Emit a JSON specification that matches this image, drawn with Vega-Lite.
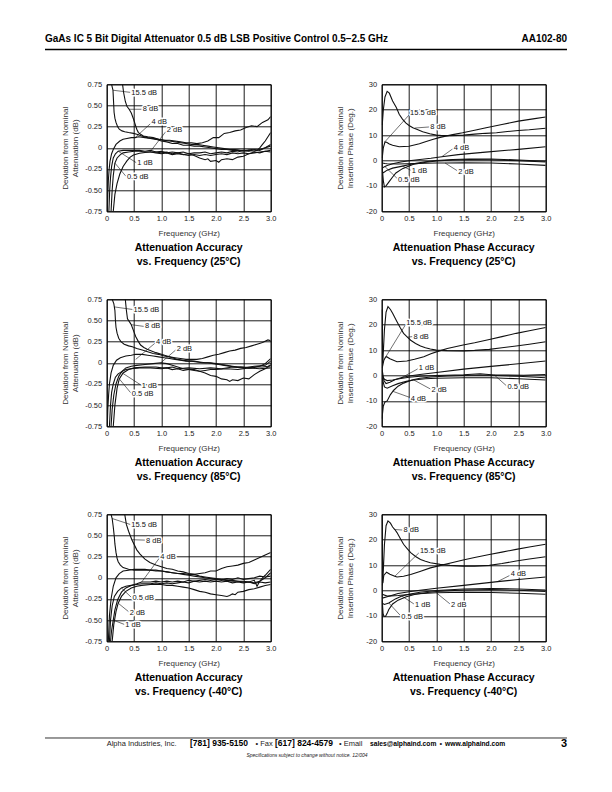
{
"$schema": "https://vega.github.io/schema/vega-lite/v6.json",
"padding": {"left": 43.7, "top": 32.3, "right": 5, "bottom": 5},
"background": "white",
"config": {
 "font": "Liberation Sans",
 "view": {"stroke": "#000", "strokeWidth": 1},
 "axis": {"grid": true, "gridColor": "#000", "gridOpacity": 1, "gridWidth": 0.9, "ticks": false, "domain": false, "tickCount": 20, "labelFont": "Liberation Sans", "labelFontSize": 7.5, "labelColor": "#222", "titleFont": "Liberation Sans", "titleFontSize": 8, "titleFontWeight": "normal", "titleColor": "#333", "labelFlush": false, "labelOverlap": false},
 "axisX": {"labelPadding": 3, "titlePadding": 8},
 "axisY": {"labelPadding": 5, "titleLineHeight": 10},
 "title": {"orient": "bottom", "anchor": "middle", "font": "Liberation Sans", "fontSize": 10.5, "fontWeight": "bold", "lineHeight": 14, "offset": 5.5, "color": "#000"}
},
"datasets": {
 "hdr": [{"t":"GaAs IC 5 Bit Digital Attenuator 0.5 dB LSB Positive Control 0.5–2.5 GHz","k":"l","x":45,"y":40.5},{"t":"AA102-80","k":"r","x":567,"y":40.5}],
 "hrule": [{"x":45,"x2":567,"y":48.5}],
 "ftr": [
  {"t":"Alpha Industries, Inc.","k":"co","x":106.7,"y":745.5},
  {"t":"• Fax","k":"co","x":255.5,"y":745.5},
  {"t":"• Email","k":"co","x":339,"y":745.5},
  {"t":"•","k":"co","x":439.5,"y":745.5},
  {"t":"[781] 935-5150","k":"num","x":190,"y":745.5},
  {"t":"[617] 824-4579","k":"num","x":275,"y":745.5},
  {"t":"sales@alphaind.com","k":"web","x":370,"y":745.5},
  {"t":"www.alphaind.com","k":"web","x":445,"y":745.5},
  {"t":"3","k":"pg","x":567,"y":746},
  {"t":"Specifications subject to change without notice.  12/004","k":"note","x":307,"y":756}
 ],
 "frule": [{"x":45,"x2":567,"y":737}],
 "a25": [
  {"s":"15.5","f":0.09,"v":0.75},{"s":"15.5","f":0.1,"v":0.72},{"s":"15.5","f":0.115,"v":0.68},{"s":"15.5","f":0.125,"v":0.55},{"s":"15.5","f":0.135,"v":0.42},{"s":"15.5","f":0.15,"v":0.35},{"s":"15.5","f":0.17,"v":0.3},{"s":"15.5","f":0.2,"v":0.25},{"s":"15.5","f":0.23,"v":0.22},{"s":"15.5","f":0.28,"v":0.2},{"s":"15.5","f":0.33,"v":0.19},{"s":"15.5","f":0.4,"v":0.18},{"s":"15.5","f":0.49,"v":0.17},{"s":"15.5","f":0.55,"v":0.16},{"s":"15.5","f":0.64,"v":0.14},{"s":"15.5","f":0.75,"v":0.12},{"s":"15.5","f":0.85,"v":0.11},{"s":"15.5","f":0.95,"v":0.1},{"s":"15.5","f":1.05,"v":0.09},{"s":"15.5","f":1.15,"v":0.09},{"s":"15.5","f":1.25,"v":0.08},{"s":"15.5","f":1.35,"v":0.07},{"s":"15.5","f":1.45,"v":0.06},{"s":"15.5","f":1.55,"v":0.06},{"s":"15.5","f":1.65,"v":0.05},{"s":"15.5","f":1.75,"v":0.06},{"s":"15.5","f":1.85,"v":0.08},{"s":"15.5","f":1.95,"v":0.12},{"s":"15.5","f":2.05,"v":0.12},{"s":"15.5","f":2.15,"v":0.17},{"s":"15.5","f":2.25,"v":0.18},{"s":"15.5","f":2.35,"v":0.2},{"s":"15.5","f":2.45,"v":0.21},{"s":"15.5","f":2.55,"v":0.24},{"s":"15.5","f":2.65,"v":0.26},{"s":"15.5","f":2.75,"v":0.25},{"s":"15.5","f":2.85,"v":0.3},{"s":"15.5","f":2.95,"v":0.33},{"s":"15.5","f":3.0,"v":0.37},
  {"s":"8","f":0.29,"v":0.75},{"s":"8","f":0.31,"v":0.65},{"s":"8","f":0.34,"v":0.55},{"s":"8","f":0.37,"v":0.49},{"s":"8","f":0.41,"v":0.455},{"s":"8","f":0.45,"v":0.41},{"s":"8","f":0.49,"v":0.34},{"s":"8","f":0.52,"v":0.28},{"s":"8","f":0.55,"v":0.22},{"s":"8","f":0.58,"v":0.18},{"s":"8","f":0.62,"v":0.16},{"s":"8","f":0.67,"v":0.14},{"s":"8","f":0.75,"v":0.13},{"s":"8","f":0.85,"v":0.12},{"s":"8","f":0.95,"v":0.1},{"s":"8","f":1.05,"v":0.09},{"s":"8","f":1.15,"v":0.08},{"s":"8","f":1.25,"v":0.07},{"s":"8","f":1.35,"v":0.06},{"s":"8","f":1.45,"v":0.05},{"s":"8","f":1.55,"v":0.04},{"s":"8","f":1.65,"v":0.04},{"s":"8","f":1.75,"v":0.03},{"s":"8","f":1.85,"v":0.02},{"s":"8","f":1.95,"v":0.01},{"s":"8","f":2.05,"v":0.0},{"s":"8","f":2.15,"v":-0.01},{"s":"8","f":2.25,"v":-0.02},{"s":"8","f":2.35,"v":-0.02},{"s":"8","f":2.45,"v":-0.03},{"s":"8","f":2.55,"v":-0.03},{"s":"8","f":2.65,"v":-0.02},{"s":"8","f":2.75,"v":-0.03},{"s":"8","f":2.8,"v":0.0},{"s":"8","f":2.85,"v":0.04},{"s":"8","f":2.9,"v":0.08},{"s":"8","f":2.95,"v":0.13},{"s":"8","f":3.0,"v":0.18},
  {"s":"4","f":0.01,"v":-0.75},{"s":"4","f":0.02,"v":-0.55},{"s":"4","f":0.03,"v":-0.39},{"s":"4","f":0.045,"v":-0.25},{"s":"4","f":0.06,"v":-0.16},{"s":"4","f":0.09,"v":-0.07},{"s":"4","f":0.12,"v":-0.02},{"s":"4","f":0.17,"v":0.04},{"s":"4","f":0.24,"v":0.08},{"s":"4","f":0.3,"v":0.1},{"s":"4","f":0.37,"v":0.11},{"s":"4","f":0.45,"v":0.12},{"s":"4","f":0.52,"v":0.12},{"s":"4","f":0.58,"v":0.13},{"s":"4","f":0.7,"v":0.12},{"s":"4","f":0.8,"v":0.11},{"s":"4","f":0.9,"v":0.1},{"s":"4","f":1.0,"v":0.08},{"s":"4","f":1.1,"v":0.07},{"s":"4","f":1.2,"v":0.05},{"s":"4","f":1.3,"v":0.05},{"s":"4","f":1.4,"v":0.03},{"s":"4","f":1.5,"v":0.03},{"s":"4","f":1.6,"v":0.02},{"s":"4","f":1.7,"v":0.02},{"s":"4","f":1.8,"v":0.01},{"s":"4","f":1.9,"v":0.0},{"s":"4","f":2.0,"v":-0.01},{"s":"4","f":2.1,"v":-0.02},{"s":"4","f":2.2,"v":-0.02},{"s":"4","f":2.3,"v":-0.03},{"s":"4","f":2.4,"v":-0.03},{"s":"4","f":2.5,"v":-0.04},{"s":"4","f":2.6,"v":-0.03},{"s":"4","f":2.7,"v":-0.04},{"s":"4","f":2.8,"v":-0.02},{"s":"4","f":2.9,"v":0.0},{"s":"4","f":3.0,"v":0.04},
  {"s":"1","f":0.04,"v":-0.75},{"s":"1","f":0.055,"v":-0.5},{"s":"1","f":0.07,"v":-0.35},{"s":"1","f":0.09,"v":-0.22},{"s":"1","f":0.12,"v":-0.12},{"s":"1","f":0.16,"v":-0.07},{"s":"1","f":0.21,"v":-0.04},{"s":"1","f":0.3,"v":-0.03},{"s":"1","f":0.4,"v":-0.03},{"s":"1","f":0.5,"v":-0.03},{"s":"1","f":0.6,"v":-0.03},{"s":"1","f":0.7,"v":-0.04},{"s":"1","f":0.8,"v":-0.03},{"s":"1","f":0.9,"v":-0.05},{"s":"1","f":1.0,"v":-0.04},{"s":"1","f":1.1,"v":-0.06},{"s":"1","f":1.2,"v":-0.05},{"s":"1","f":1.3,"v":-0.06},{"s":"1","f":1.4,"v":-0.05},{"s":"1","f":1.5,"v":-0.07},{"s":"1","f":1.6,"v":-0.06},{"s":"1","f":1.7,"v":-0.06},{"s":"1","f":1.8,"v":-0.05},{"s":"1","f":1.9,"v":-0.07},{"s":"1","f":2.0,"v":-0.06},{"s":"1","f":2.1,"v":-0.05},{"s":"1","f":2.2,"v":-0.06},{"s":"1","f":2.3,"v":-0.04},{"s":"1","f":2.4,"v":-0.05},{"s":"1","f":2.5,"v":-0.03},{"s":"1","f":2.6,"v":-0.04},{"s":"1","f":2.7,"v":-0.02},{"s":"1","f":2.8,"v":-0.03},{"s":"1","f":2.9,"v":0.0},{"s":"1","f":3.0,"v":0.02},
  {"s":"0.5","f":0.08,"v":-0.75},{"s":"0.5","f":0.1,"v":-0.5},{"s":"0.5","f":0.12,"v":-0.33},{"s":"0.5","f":0.15,"v":-0.18},{"s":"0.5","f":0.19,"v":-0.12},{"s":"0.5","f":0.25,"v":-0.08},{"s":"0.5","f":0.3,"v":-0.06},{"s":"0.5","f":0.4,"v":-0.05},{"s":"0.5","f":0.5,"v":-0.04},{"s":"0.5","f":0.6,"v":-0.04},{"s":"0.5","f":0.7,"v":-0.05},{"s":"0.5","f":0.8,"v":-0.05},{"s":"0.5","f":0.9,"v":-0.06},{"s":"0.5","f":1.0,"v":-0.07},{"s":"0.5","f":1.1,"v":-0.06},{"s":"0.5","f":1.2,"v":-0.08},{"s":"0.5","f":1.3,"v":-0.07},{"s":"0.5","f":1.4,"v":-0.08},{"s":"0.5","f":1.5,"v":-0.09},{"s":"0.5","f":1.6,"v":-0.08},{"s":"0.5","f":1.7,"v":-0.09},{"s":"0.5","f":1.8,"v":-0.08},{"s":"0.5","f":1.9,"v":-0.09},{"s":"0.5","f":2.0,"v":-0.08},{"s":"0.5","f":2.1,"v":-0.07},{"s":"0.5","f":2.2,"v":-0.08},{"s":"0.5","f":2.3,"v":-0.06},{"s":"0.5","f":2.4,"v":-0.07},{"s":"0.5","f":2.5,"v":-0.06},{"s":"0.5","f":2.6,"v":-0.07},{"s":"0.5","f":2.7,"v":-0.05},{"s":"0.5","f":2.8,"v":-0.06},{"s":"0.5","f":2.9,"v":-0.04},{"s":"0.5","f":3.0,"v":-0.05},
  {"s":"2","f":0.12,"v":-0.75},{"s":"2","f":0.15,"v":-0.55},{"s":"2","f":0.19,"v":-0.42},{"s":"2","f":0.24,"v":-0.31},{"s":"2","f":0.3,"v":-0.22},{"s":"2","f":0.37,"v":-0.155},{"s":"2","f":0.43,"v":-0.11},{"s":"2","f":0.49,"v":-0.085},{"s":"2","f":0.6,"v":-0.065},{"s":"2","f":0.7,"v":-0.055},{"s":"2","f":0.79,"v":-0.05},{"s":"2","f":0.9,"v":-0.05},{"s":"2","f":1.0,"v":-0.06},{"s":"2","f":1.1,"v":-0.05},{"s":"2","f":1.2,"v":-0.07},{"s":"2","f":1.3,"v":-0.06},{"s":"2","f":1.4,"v":-0.08},{"s":"2","f":1.5,"v":-0.07},{"s":"2","f":1.6,"v":-0.09},{"s":"2","f":1.7,"v":-0.12},{"s":"2","f":1.8,"v":-0.14},{"s":"2","f":1.85,"v":-0.13},{"s":"2","f":1.9,"v":-0.16},{"s":"2","f":2.0,"v":-0.15},{"s":"2","f":2.05,"v":-0.17},{"s":"2","f":2.1,"v":-0.14},{"s":"2","f":2.2,"v":-0.13},{"s":"2","f":2.3,"v":-0.14},{"s":"2","f":2.4,"v":-0.11},{"s":"2","f":2.5,"v":-0.1},{"s":"2","f":2.6,"v":-0.07},{"s":"2","f":2.7,"v":-0.06},{"s":"2","f":2.8,"v":-0.05},{"s":"2","f":2.9,"v":-0.04},{"s":"2","f":3.0,"v":-0.03}
 ],
 "a85": [
  {"s":"15.5","f":0.1,"v":0.75},{"s":"15.5","f":0.13,"v":0.7},{"s":"15.5","f":0.15,"v":0.62},{"s":"15.5","f":0.16,"v":0.5},{"s":"15.5","f":0.17,"v":0.42},{"s":"15.5","f":0.19,"v":0.35},{"s":"15.5","f":0.22,"v":0.29},{"s":"15.5","f":0.26,"v":0.25},{"s":"15.5","f":0.32,"v":0.22},{"s":"15.5","f":0.4,"v":0.2},{"s":"15.5","f":0.47,"v":0.19},{"s":"15.5","f":0.55,"v":0.17},{"s":"15.5","f":0.65,"v":0.15},{"s":"15.5","f":0.75,"v":0.13},{"s":"15.5","f":0.85,"v":0.11},{"s":"15.5","f":0.95,"v":0.1},{"s":"15.5","f":1.05,"v":0.08},{"s":"15.5","f":1.15,"v":0.07},{"s":"15.5","f":1.25,"v":0.06},{"s":"15.5","f":1.35,"v":0.05},{"s":"15.5","f":1.45,"v":0.04},{"s":"15.5","f":1.55,"v":0.04},{"s":"15.5","f":1.65,"v":0.04},{"s":"15.5","f":1.75,"v":0.05},{"s":"15.5","f":1.85,"v":0.07},{"s":"15.5","f":1.95,"v":0.09},{"s":"15.5","f":2.05,"v":0.1},{"s":"15.5","f":2.15,"v":0.12},{"s":"15.5","f":2.25,"v":0.14},{"s":"15.5","f":2.35,"v":0.15},{"s":"15.5","f":2.45,"v":0.17},{"s":"15.5","f":2.55,"v":0.18},{"s":"15.5","f":2.65,"v":0.2},{"s":"15.5","f":2.75,"v":0.22},{"s":"15.5","f":2.85,"v":0.24},{"s":"15.5","f":2.95,"v":0.27},{"s":"15.5","f":3.0,"v":0.26},
  {"s":"8","f":0.34,"v":0.75},{"s":"8","f":0.36,"v":0.62},{"s":"8","f":0.38,"v":0.52},{"s":"8","f":0.42,"v":0.48},{"s":"8","f":0.45,"v":0.45},{"s":"8","f":0.49,"v":0.38},{"s":"8","f":0.53,"v":0.31},{"s":"8","f":0.58,"v":0.25},{"s":"8","f":0.62,"v":0.21},{"s":"8","f":0.68,"v":0.18},{"s":"8","f":0.74,"v":0.16},{"s":"8","f":0.82,"v":0.14},{"s":"8","f":0.9,"v":0.12},{"s":"8","f":1.0,"v":0.1},{"s":"8","f":1.1,"v":0.08},{"s":"8","f":1.2,"v":0.06},{"s":"8","f":1.3,"v":0.04},{"s":"8","f":1.4,"v":0.03},{"s":"8","f":1.5,"v":0.02},{"s":"8","f":1.6,"v":0.02},{"s":"8","f":1.7,"v":0.01},{"s":"8","f":1.8,"v":0.0},{"s":"8","f":1.9,"v":0.0},{"s":"8","f":2.0,"v":-0.01},{"s":"8","f":2.1,"v":-0.02},{"s":"8","f":2.2,"v":-0.03},{"s":"8","f":2.3,"v":-0.04},{"s":"8","f":2.4,"v":-0.05},{"s":"8","f":2.5,"v":-0.05},{"s":"8","f":2.6,"v":-0.06},{"s":"8","f":2.7,"v":-0.05},{"s":"8","f":2.8,"v":-0.04},{"s":"8","f":2.9,"v":-0.01},{"s":"8","f":3.0,"v":0.05},
  {"s":"4","f":0.01,"v":-0.75},{"s":"4","f":0.02,"v":-0.55},{"s":"4","f":0.035,"v":-0.38},{"s":"4","f":0.05,"v":-0.25},{"s":"4","f":0.08,"v":-0.12},{"s":"4","f":0.12,"v":-0.03},{"s":"4","f":0.18,"v":0.03},{"s":"4","f":0.25,"v":0.06},{"s":"4","f":0.35,"v":0.08},{"s":"4","f":0.45,"v":0.09},{"s":"4","f":0.53,"v":0.1},{"s":"4","f":0.65,"v":0.1},{"s":"4","f":0.75,"v":0.09},{"s":"4","f":0.85,"v":0.08},{"s":"4","f":0.95,"v":0.07},{"s":"4","f":1.05,"v":0.06},{"s":"4","f":1.15,"v":0.05},{"s":"4","f":1.25,"v":0.04},{"s":"4","f":1.35,"v":0.03},{"s":"4","f":1.45,"v":0.02},{"s":"4","f":1.55,"v":0.02},{"s":"4","f":1.65,"v":0.01},{"s":"4","f":1.75,"v":0.0},{"s":"4","f":1.85,"v":0.0},{"s":"4","f":1.95,"v":-0.01},{"s":"4","f":2.05,"v":-0.02},{"s":"4","f":2.15,"v":-0.03},{"s":"4","f":2.25,"v":-0.04},{"s":"4","f":2.35,"v":-0.05},{"s":"4","f":2.45,"v":-0.05},{"s":"4","f":2.55,"v":-0.06},{"s":"4","f":2.65,"v":-0.06},{"s":"4","f":2.75,"v":-0.05},{"s":"4","f":2.85,"v":-0.05},{"s":"4","f":2.95,"v":-0.04},{"s":"4","f":3.0,"v":-0.03},
  {"s":"2","f":0.08,"v":-0.75},{"s":"2","f":0.1,"v":-0.55},{"s":"2","f":0.13,"v":-0.38},{"s":"2","f":0.17,"v":-0.25},{"s":"2","f":0.22,"v":-0.16},{"s":"2","f":0.28,"v":-0.1},{"s":"2","f":0.35,"v":-0.06},{"s":"2","f":0.45,"v":-0.04},{"s":"2","f":0.55,"v":-0.03},{"s":"2","f":0.7,"v":-0.02},{"s":"2","f":0.85,"v":-0.01},{"s":"2","f":0.99,"v":0.0},{"s":"2","f":1.1,"v":-0.01},{"s":"2","f":1.2,"v":-0.03},{"s":"2","f":1.3,"v":-0.05},{"s":"2","f":1.4,"v":-0.07},{"s":"2","f":1.5,"v":-0.08},{"s":"2","f":1.6,"v":-0.09},{"s":"2","f":1.7,"v":-0.1},{"s":"2","f":1.8,"v":-0.12},{"s":"2","f":1.9,"v":-0.15},{"s":"2","f":2.0,"v":-0.16},{"s":"2","f":2.1,"v":-0.19},{"s":"2","f":2.2,"v":-0.2},{"s":"2","f":2.25,"v":-0.22},{"s":"2","f":2.3,"v":-0.2},{"s":"2","f":2.4,"v":-0.21},{"s":"2","f":2.5,"v":-0.18},{"s":"2","f":2.6,"v":-0.19},{"s":"2","f":2.7,"v":-0.14},{"s":"2","f":2.8,"v":-0.1},{"s":"2","f":2.9,"v":-0.07},{"s":"2","f":3.0,"v":-0.03},
  {"s":"1","f":0.05,"v":-0.75},{"s":"1","f":0.07,"v":-0.5},{"s":"1","f":0.09,"v":-0.35},{"s":"1","f":0.12,"v":-0.25},{"s":"1","f":0.16,"v":-0.17},{"s":"1","f":0.21,"v":-0.13},{"s":"1","f":0.26,"v":-0.11},{"s":"1","f":0.35,"v":-0.08},{"s":"1","f":0.45,"v":-0.07},{"s":"1","f":0.6,"v":-0.06},{"s":"1","f":0.8,"v":-0.06},{"s":"1","f":1.0,"v":-0.07},{"s":"1","f":1.1,"v":-0.06},{"s":"1","f":1.2,"v":-0.08},{"s":"1","f":1.3,"v":-0.07},{"s":"1","f":1.4,"v":-0.09},{"s":"1","f":1.5,"v":-0.08},{"s":"1","f":1.6,"v":-0.08},{"s":"1","f":1.7,"v":-0.1},{"s":"1","f":1.8,"v":-0.09},{"s":"1","f":1.9,"v":-0.08},{"s":"1","f":2.0,"v":-0.08},{"s":"1","f":2.2,"v":-0.07},{"s":"1","f":2.4,"v":-0.08},{"s":"1","f":2.6,"v":-0.06},{"s":"1","f":2.8,"v":-0.07},{"s":"1","f":3.0,"v":-0.06},
  {"s":"0.5","f":0.12,"v":-0.75},{"s":"0.5","f":0.15,"v":-0.5},{"s":"0.5","f":0.19,"v":-0.3},{"s":"0.5","f":0.23,"v":-0.19},{"s":"0.5","f":0.3,"v":-0.12},{"s":"0.5","f":0.4,"v":-0.08},{"s":"0.5","f":0.5,"v":-0.06},{"s":"0.5","f":0.7,"v":-0.05},{"s":"0.5","f":0.9,"v":-0.05},{"s":"0.5","f":1.0,"v":-0.06},{"s":"0.5","f":1.1,"v":-0.06},{"s":"0.5","f":1.2,"v":-0.05},{"s":"0.5","f":1.3,"v":-0.07},{"s":"0.5","f":1.5,"v":-0.06},{"s":"0.5","f":1.7,"v":-0.07},{"s":"0.5","f":1.9,"v":-0.06},{"s":"0.5","f":2.1,"v":-0.07},{"s":"0.5","f":2.3,"v":-0.05},{"s":"0.5","f":2.5,"v":-0.06},{"s":"0.5","f":2.7,"v":-0.04},{"s":"0.5","f":2.9,"v":-0.03},{"s":"0.5","f":3.0,"v":0.02}
 ],
 "a40": [
  {"s":"15.5","f":0.08,"v":0.75},{"s":"15.5","f":0.1,"v":0.7},{"s":"15.5","f":0.12,"v":0.6},{"s":"15.5","f":0.14,"v":0.48},{"s":"15.5","f":0.15,"v":0.4},{"s":"15.5","f":0.17,"v":0.3},{"s":"15.5","f":0.19,"v":0.23},{"s":"15.5","f":0.21,"v":0.19},{"s":"15.5","f":0.25,"v":0.15},{"s":"15.5","f":0.3,"v":0.12},{"s":"15.5","f":0.4,"v":0.1},{"s":"15.5","f":0.5,"v":0.09},{"s":"15.5","f":0.6,"v":0.09},{"s":"15.5","f":0.7,"v":0.09},{"s":"15.5","f":0.8,"v":0.09},{"s":"15.5","f":0.9,"v":0.08},{"s":"15.5","f":1.0,"v":0.08},{"s":"15.5","f":1.1,"v":0.07},{"s":"15.5","f":1.2,"v":0.06},{"s":"15.5","f":1.3,"v":0.05},{"s":"15.5","f":1.4,"v":0.05},{"s":"15.5","f":1.5,"v":0.04},{"s":"15.5","f":1.6,"v":0.04},{"s":"15.5","f":1.7,"v":0.05},{"s":"15.5","f":1.8,"v":0.06},{"s":"15.5","f":1.9,"v":0.08},{"s":"15.5","f":2.0,"v":0.08},{"s":"15.5","f":2.1,"v":0.11},{"s":"15.5","f":2.2,"v":0.13},{"s":"15.5","f":2.3,"v":0.14},{"s":"15.5","f":2.4,"v":0.15},{"s":"15.5","f":2.5,"v":0.17},{"s":"15.5","f":2.6,"v":0.18},{"s":"15.5","f":2.7,"v":0.21},{"s":"15.5","f":2.8,"v":0.24},{"s":"15.5","f":2.9,"v":0.27},{"s":"15.5","f":3.0,"v":0.3},
  {"s":"8","f":0.33,"v":0.75},{"s":"8","f":0.36,"v":0.63},{"s":"8","f":0.4,"v":0.55},{"s":"8","f":0.46,"v":0.45},{"s":"8","f":0.55,"v":0.33},{"s":"8","f":0.61,"v":0.28},{"s":"8","f":0.7,"v":0.22},{"s":"8","f":0.79,"v":0.18},{"s":"8","f":0.9,"v":0.15},{"s":"8","f":1.0,"v":0.13},{"s":"8","f":1.1,"v":0.11},{"s":"8","f":1.2,"v":0.1},{"s":"8","f":1.3,"v":0.08},{"s":"8","f":1.4,"v":0.07},{"s":"8","f":1.5,"v":0.05},{"s":"8","f":1.6,"v":0.04},{"s":"8","f":1.7,"v":0.02},{"s":"8","f":1.8,"v":0.01},{"s":"8","f":1.9,"v":0.0},{"s":"8","f":2.0,"v":-0.01},{"s":"8","f":2.1,"v":-0.02},{"s":"8","f":2.2,"v":-0.03},{"s":"8","f":2.3,"v":-0.04},{"s":"8","f":2.4,"v":-0.04},{"s":"8","f":2.5,"v":-0.05},{"s":"8","f":2.6,"v":-0.05},{"s":"8","f":2.7,"v":-0.06},{"s":"8","f":2.8,"v":-0.04},{"s":"8","f":2.9,"v":0.0},{"s":"8","f":3.0,"v":0.06},
  {"s":"4","f":0.03,"v":-0.75},{"s":"4","f":0.05,"v":-0.45},{"s":"4","f":0.08,"v":-0.25},{"s":"4","f":0.12,"v":-0.1},{"s":"4","f":0.17,"v":0.0},{"s":"4","f":0.23,"v":0.05},{"s":"4","f":0.3,"v":0.08},{"s":"4","f":0.4,"v":0.09},{"s":"4","f":0.5,"v":0.1},{"s":"4","f":0.6,"v":0.1},{"s":"4","f":0.7,"v":0.1},{"s":"4","f":0.8,"v":0.09},{"s":"4","f":0.9,"v":0.09},{"s":"4","f":1.0,"v":0.08},{"s":"4","f":1.1,"v":0.07},{"s":"4","f":1.2,"v":0.06},{"s":"4","f":1.3,"v":0.05},{"s":"4","f":1.4,"v":0.04},{"s":"4","f":1.5,"v":0.03},{"s":"4","f":1.6,"v":0.02},{"s":"4","f":1.7,"v":0.01},{"s":"4","f":1.8,"v":0.0},{"s":"4","f":1.9,"v":-0.01},{"s":"4","f":2.0,"v":-0.02},{"s":"4","f":2.1,"v":-0.02},{"s":"4","f":2.2,"v":-0.03},{"s":"4","f":2.3,"v":-0.03},{"s":"4","f":2.4,"v":-0.04},{"s":"4","f":2.5,"v":-0.04},{"s":"4","f":2.6,"v":-0.05},{"s":"4","f":2.7,"v":-0.03},{"s":"4","f":2.75,"v":-0.1},{"s":"4","f":2.8,"v":-0.04},{"s":"4","f":2.85,"v":0.0},{"s":"4","f":2.9,"v":0.03},{"s":"4","f":3.0,"v":0.1},
  {"s":"0.5","f":0.05,"v":-0.75},{"s":"0.5","f":0.07,"v":-0.5},{"s":"0.5","f":0.1,"v":-0.33},{"s":"0.5","f":0.14,"v":-0.22},{"s":"0.5","f":0.2,"v":-0.16},{"s":"0.5","f":0.27,"v":-0.12},{"s":"0.5","f":0.35,"v":-0.1},{"s":"0.5","f":0.45,"v":-0.09},{"s":"0.5","f":0.55,"v":-0.08},{"s":"0.5","f":0.64,"v":-0.07},{"s":"0.5","f":0.8,"v":-0.07},{"s":"0.5","f":0.9,"v":-0.06},{"s":"0.5","f":1.0,"v":-0.07},{"s":"0.5","f":1.1,"v":-0.06},{"s":"0.5","f":1.2,"v":-0.07},{"s":"0.5","f":1.3,"v":-0.06},{"s":"0.5","f":1.4,"v":-0.05},{"s":"0.5","f":1.5,"v":-0.06},{"s":"0.5","f":1.6,"v":-0.04},{"s":"0.5","f":1.7,"v":-0.05},{"s":"0.5","f":1.8,"v":-0.04},{"s":"0.5","f":1.9,"v":-0.05},{"s":"0.5","f":2.0,"v":-0.04},{"s":"0.5","f":2.1,"v":-0.05},{"s":"0.5","f":2.2,"v":-0.04},{"s":"0.5","f":2.3,"v":-0.06},{"s":"0.5","f":2.4,"v":-0.05},{"s":"0.5","f":2.5,"v":-0.06},{"s":"0.5","f":2.6,"v":-0.05},{"s":"0.5","f":2.7,"v":-0.07},{"s":"0.5","f":2.8,"v":-0.05},{"s":"0.5","f":2.9,"v":-0.06},{"s":"0.5","f":3.0,"v":-0.05},
  {"s":"2","f":0.1,"v":-0.75},{"s":"2","f":0.13,"v":-0.55},{"s":"2","f":0.17,"v":-0.4},{"s":"2","f":0.21,"v":-0.3},{"s":"2","f":0.27,"v":-0.22},{"s":"2","f":0.35,"v":-0.16},{"s":"2","f":0.45,"v":-0.12},{"s":"2","f":0.55,"v":-0.1},{"s":"2","f":0.64,"v":-0.09},{"s":"2","f":0.8,"v":-0.08},{"s":"2","f":0.9,"v":-0.08},{"s":"2","f":1.0,"v":-0.08},{"s":"2","f":1.1,"v":-0.09},{"s":"2","f":1.2,"v":-0.09},{"s":"2","f":1.3,"v":-0.1},{"s":"2","f":1.4,"v":-0.11},{"s":"2","f":1.5,"v":-0.12},{"s":"2","f":1.6,"v":-0.14},{"s":"2","f":1.7,"v":-0.16},{"s":"2","f":1.8,"v":-0.17},{"s":"2","f":1.9,"v":-0.19},{"s":"2","f":2.0,"v":-0.2},{"s":"2","f":2.1,"v":-0.21},{"s":"2","f":2.2,"v":-0.22},{"s":"2","f":2.25,"v":-0.21},{"s":"2","f":2.3,"v":-0.19},{"s":"2","f":2.35,"v":-0.2},{"s":"2","f":2.4,"v":-0.17},{"s":"2","f":2.5,"v":-0.16},{"s":"2","f":2.6,"v":-0.14},{"s":"2","f":2.7,"v":-0.13},{"s":"2","f":2.8,"v":-0.11},{"s":"2","f":2.9,"v":-0.09},{"s":"2","f":3.0,"v":-0.08},
  {"s":"1","f":0.07,"v":-0.75},{"s":"1","f":0.09,"v":-0.62},{"s":"1","f":0.12,"v":-0.5},{"s":"1","f":0.15,"v":-0.38},{"s":"1","f":0.2,"v":-0.26},{"s":"1","f":0.27,"v":-0.17},{"s":"1","f":0.35,"v":-0.12},{"s":"1","f":0.45,"v":-0.09},{"s":"1","f":0.55,"v":-0.07},{"s":"1","f":0.64,"v":-0.05},{"s":"1","f":0.8,"v":-0.05},{"s":"1","f":0.9,"v":-0.04},{"s":"1","f":1.0,"v":-0.05},{"s":"1","f":1.1,"v":-0.04},{"s":"1","f":1.2,"v":-0.05},{"s":"1","f":1.3,"v":-0.04},{"s":"1","f":1.4,"v":-0.05},{"s":"1","f":1.5,"v":-0.03},{"s":"1","f":1.6,"v":-0.04},{"s":"1","f":1.7,"v":-0.03},{"s":"1","f":1.8,"v":-0.02},{"s":"1","f":1.9,"v":-0.03},{"s":"1","f":2.0,"v":-0.02},{"s":"1","f":2.1,"v":-0.03},{"s":"1","f":2.2,"v":-0.01},{"s":"1","f":2.3,"v":-0.02},{"s":"1","f":2.4,"v":0.0},{"s":"1","f":2.5,"v":-0.02},{"s":"1","f":2.6,"v":-0.01},{"s":"1","f":2.7,"v":0.0},{"s":"1","f":2.8,"v":0.02},{"s":"1","f":2.9,"v":0.01},{"s":"1","f":3.0,"v":0.02}
 ],
 "p25": [
  {"s":"8","f":0.01,"v":14},{"s":"8","f":0.03,"v":20},{"s":"8","f":0.06,"v":25},{"s":"8","f":0.1,"v":27.2},{"s":"8","f":0.14,"v":26.5},{"s":"8","f":0.2,"v":23.4},{"s":"8","f":0.27,"v":20.8},{"s":"8","f":0.32,"v":18.2},{"s":"8","f":0.38,"v":16.3},{"s":"8","f":0.44,"v":14.8},{"s":"8","f":0.5,"v":13.8},{"s":"8","f":0.57,"v":12.9},{"s":"8","f":0.64,"v":12.3},{"s":"8","f":0.75,"v":11.3},{"s":"8","f":0.88,"v":10.5},{"s":"8","f":1.0,"v":10.0},{"s":"8","f":1.1,"v":9.8},{"s":"8","f":1.25,"v":9.8},{"s":"8","f":1.4,"v":9.9},{"s":"8","f":1.5,"v":10.0},{"s":"8","f":1.7,"v":10.4},{"s":"8","f":1.9,"v":10.7},{"s":"8","f":2.1,"v":10.9},{"s":"8","f":2.3,"v":11.4},{"s":"8","f":2.5,"v":11.8},{"s":"8","f":2.7,"v":12.1},{"s":"8","f":2.9,"v":12.5},{"s":"8","f":3.0,"v":12.7},
  {"s":"15.5","f":0.01,"v":1},{"s":"15.5","f":0.03,"v":5},{"s":"15.5","f":0.06,"v":7.3},{"s":"15.5","f":0.09,"v":7.2},{"s":"15.5","f":0.14,"v":6.5},{"s":"15.5","f":0.2,"v":6.0},{"s":"15.5","f":0.32,"v":5.4},{"s":"15.5","f":0.5,"v":5.6},{"s":"15.5","f":0.69,"v":6.6},{"s":"15.5","f":0.8,"v":7.4},{"s":"15.5","f":0.93,"v":8.3},{"s":"15.5","f":1.05,"v":9.0},{"s":"15.5","f":1.17,"v":9.6},{"s":"15.5","f":1.3,"v":10.2},{"s":"15.5","f":1.48,"v":10.9},{"s":"15.5","f":1.7,"v":11.9},{"s":"15.5","f":1.91,"v":12.9},{"s":"15.5","f":2.2,"v":14.2},{"s":"15.5","f":2.5,"v":15.5},{"s":"15.5","f":2.8,"v":16.5},{"s":"15.5","f":3.0,"v":17.1},
  {"s":"4","f":0.01,"v":-3},{"s":"4","f":0.05,"v":-2.5},{"s":"4","f":0.1,"v":-2.0},{"s":"4","f":0.2,"v":-1.3},{"s":"4","f":0.35,"v":-0.6},{"s":"4","f":0.5,"v":-0.1},{"s":"4","f":0.7,"v":0.4},{"s":"4","f":0.9,"v":0.9},{"s":"4","f":1.1,"v":1.5},{"s":"4","f":1.4,"v":2.3},{"s":"4","f":1.9,"v":3.3},{"s":"4","f":2.5,"v":4.4},{"s":"4","f":3.0,"v":5.4},
  {"s":"2","f":0.01,"v":-1},{"s":"2","f":0.06,"v":-1.2},{"s":"2","f":0.1,"v":-1.3},{"s":"2","f":0.3,"v":-1.4},{"s":"2","f":0.6,"v":-1.2},{"s":"2","f":1.0,"v":-1.0},{"s":"2","f":1.16,"v":-1.0},{"s":"2","f":1.5,"v":-0.9},{"s":"2","f":2.0,"v":-1.0},{"s":"2","f":2.5,"v":-1.4},{"s":"2","f":3.0,"v":-1.9},
  {"s":"1","f":0.01,"v":-5},{"s":"1","f":0.05,"v":-4.5},{"s":"1","f":0.1,"v":-3.8},{"s":"1","f":0.2,"v":-3.0},{"s":"1","f":0.38,"v":-2.2},{"s":"1","f":0.6,"v":-1.2},{"s":"1","f":0.8,"v":-0.5},{"s":"1","f":1.0,"v":0.0},{"s":"1","f":1.3,"v":0.4},{"s":"1","f":1.6,"v":0.6},{"s":"1","f":2.0,"v":0.6},{"s":"1","f":2.5,"v":0.2},{"s":"1","f":3.0,"v":-0.3},
  {"s":"0.5","f":0.01,"v":-3},{"s":"0.5","f":0.03,"v":-8},{"s":"0.5","f":0.05,"v":-10.4},{"s":"0.5","f":0.08,"v":-10},{"s":"0.5","f":0.14,"v":-8.2},{"s":"0.5","f":0.2,"v":-6.5},{"s":"0.5","f":0.26,"v":-4.9},{"s":"0.5","f":0.38,"v":-3.2},{"s":"0.5","f":0.57,"v":-1.6},{"s":"0.5","f":0.81,"v":-0.7},{"s":"0.5","f":1.0,"v":-0.2},{"s":"0.5","f":1.3,"v":0.2},{"s":"0.5","f":1.6,"v":0.4},{"s":"0.5","f":2.0,"v":0.3},{"s":"0.5","f":2.5,"v":-0.1},{"s":"0.5","f":3.0,"v":-0.6}
 ],
 "p85": [
  {"s":"8","f":0.005,"v":26},{"s":"8","f":0.02,"v":5},{"s":"8","f":0.05,"v":18},{"s":"8","f":0.08,"v":25},{"s":"8","f":0.115,"v":27.1},{"s":"8","f":0.16,"v":26},{"s":"8","f":0.2,"v":24.5},{"s":"8","f":0.28,"v":21.2},{"s":"8","f":0.34,"v":18.8},{"s":"8","f":0.4,"v":16.6},{"s":"8","f":0.47,"v":15.1},{"s":"8","f":0.53,"v":13.9},{"s":"8","f":0.62,"v":12.6},{"s":"8","f":0.71,"v":11.6},{"s":"8","f":0.8,"v":10.9},{"s":"8","f":0.89,"v":10.4},{"s":"8","f":1.0,"v":10.0},{"s":"8","f":1.2,"v":9.8},{"s":"8","f":1.49,"v":9.7},{"s":"8","f":1.7,"v":9.9},{"s":"8","f":1.97,"v":10.3},{"s":"8","f":2.2,"v":10.9},{"s":"8","f":2.46,"v":11.6},{"s":"8","f":2.7,"v":12.3},{"s":"8","f":3.0,"v":13.3},
  {"s":"15.5","f":0.01,"v":3},{"s":"15.5","f":0.04,"v":6},{"s":"15.5","f":0.07,"v":7.2},{"s":"15.5","f":0.09,"v":7.4},{"s":"15.5","f":0.15,"v":6.6},{"s":"15.5","f":0.28,"v":5.4},{"s":"15.5","f":0.46,"v":5.7},{"s":"15.5","f":0.6,"v":6.4},{"s":"15.5","f":0.77,"v":7.4},{"s":"15.5","f":0.9,"v":8.6},{"s":"15.5","f":1.0,"v":9.3},{"s":"15.5","f":1.2,"v":10.6},{"s":"15.5","f":1.49,"v":12.0},{"s":"15.5","f":1.7,"v":12.9},{"s":"15.5","f":1.97,"v":14.2},{"s":"15.5","f":2.2,"v":15.3},{"s":"15.5","f":2.46,"v":16.6},{"s":"15.5","f":2.7,"v":17.6},{"s":"15.5","f":3.0,"v":18.9},
  {"s":"4","f":0.005,"v":-17},{"s":"4","f":0.03,"v":-12},{"s":"4","f":0.06,"v":-10.4},{"s":"4","f":0.1,"v":-10.0},{"s":"4","f":0.16,"v":-7.5},{"s":"4","f":0.22,"v":-5.8},{"s":"4","f":0.3,"v":-4.2},{"s":"4","f":0.4,"v":-3.0},{"s":"4","f":0.55,"v":-1.8},{"s":"4","f":0.7,"v":-1.1},{"s":"4","f":0.9,"v":-0.6},{"s":"4","f":1.2,"v":-0.2},{"s":"4","f":1.5,"v":0.0},{"s":"4","f":1.8,"v":0.2},{"s":"4","f":2.0,"v":0.1},{"s":"4","f":2.5,"v":-0.3},{"s":"4","f":3.0,"v":-0.9},
  {"s":"1","f":0.01,"v":2},{"s":"1","f":0.04,"v":-2},{"s":"1","f":0.08,"v":-3.2},{"s":"1","f":0.15,"v":-2.7},{"s":"1","f":0.25,"v":-1.6},{"s":"1","f":0.37,"v":-0.8},{"s":"1","f":0.5,"v":-0.2},{"s":"1","f":0.7,"v":0.4},{"s":"1","f":1.0,"v":1.2},{"s":"1","f":1.5,"v":2.5},{"s":"1","f":2.0,"v":3.6},{"s":"1","f":2.5,"v":4.6},{"s":"1","f":3.0,"v":5.7},
  {"s":"2","f":0.01,"v":-1},{"s":"2","f":0.05,"v":-4.5},{"s":"2","f":0.1,"v":-5.0},{"s":"2","f":0.2,"v":-4.0},{"s":"2","f":0.3,"v":-3.2},{"s":"2","f":0.45,"v":-2.3},{"s":"2","f":0.59,"v":-1.8},{"s":"2","f":0.8,"v":-1.3},{"s":"2","f":1.0,"v":-1.1},{"s":"2","f":1.5,"v":-0.9},{"s":"2","f":2.0,"v":-0.9},{"s":"2","f":2.5,"v":-1.3},{"s":"2","f":3.0,"v":-1.8},
  {"s":"0.5","f":0.01,"v":0},{"s":"0.5","f":0.05,"v":-1.5},{"s":"0.5","f":0.1,"v":-2.0},{"s":"0.5","f":0.2,"v":-1.8},{"s":"0.5","f":0.35,"v":-1.2},{"s":"0.5","f":0.5,"v":-0.7},{"s":"0.5","f":0.7,"v":-0.3},{"s":"0.5","f":1.0,"v":0.0},{"s":"0.5","f":1.5,"v":0.3},{"s":"0.5","f":1.8,"v":0.7},{"s":"0.5","f":2.06,"v":0.2},{"s":"0.5","f":2.3,"v":0.2},{"s":"0.5","f":2.6,"v":0.1},{"s":"0.5","f":3.0,"v":0.4}
 ],
 "p40": [
  {"s":"8","f":0.005,"v":30},{"s":"8","f":0.02,"v":3},{"s":"8","f":0.05,"v":18},{"s":"8","f":0.08,"v":25.5},{"s":"8","f":0.115,"v":27.4},{"s":"8","f":0.16,"v":26.5},{"s":"8","f":0.2,"v":25},{"s":"8","f":0.24,"v":24},{"s":"8","f":0.28,"v":22.8},{"s":"8","f":0.34,"v":20.5},{"s":"8","f":0.4,"v":18.2},{"s":"8","f":0.47,"v":16.4},{"s":"8","f":0.53,"v":14.9},{"s":"8","f":0.62,"v":13.4},{"s":"8","f":0.71,"v":12.2},{"s":"8","f":0.8,"v":11.5},{"s":"8","f":0.89,"v":10.9},{"s":"8","f":1.07,"v":10.3},{"s":"8","f":1.25,"v":9.9},{"s":"8","f":1.49,"v":9.6},{"s":"8","f":1.7,"v":9.6},{"s":"8","f":1.97,"v":9.9},{"s":"8","f":2.2,"v":10.6},{"s":"8","f":2.46,"v":11.6},{"s":"8","f":2.7,"v":12.4},{"s":"8","f":3.0,"v":13.3},
  {"s":"15.5","f":0.01,"v":2},{"s":"15.5","f":0.04,"v":6},{"s":"15.5","f":0.09,"v":7.2},{"s":"15.5","f":0.15,"v":6.4},{"s":"15.5","f":0.24,"v":5.6},{"s":"15.5","f":0.28,"v":5.3},{"s":"15.5","f":0.4,"v":5.6},{"s":"15.5","f":0.53,"v":6.3},{"s":"15.5","f":0.7,"v":7.5},{"s":"15.5","f":0.89,"v":8.9},{"s":"15.5","f":1.1,"v":10.0},{"s":"15.5","f":1.3,"v":11.0},{"s":"15.5","f":1.49,"v":12.0},{"s":"15.5","f":1.7,"v":13.0},{"s":"15.5","f":1.97,"v":14.2},{"s":"15.5","f":2.2,"v":15.1},{"s":"15.5","f":2.46,"v":16.2},{"s":"15.5","f":2.7,"v":17.1},{"s":"15.5","f":3.0,"v":18.2},
  {"s":"4","f":0.01,"v":-3},{"s":"4","f":0.1,"v":-2.5},{"s":"4","f":0.3,"v":-1.2},{"s":"4","f":0.5,"v":-0.5},{"s":"4","f":0.7,"v":0.1},{"s":"4","f":1.0,"v":0.9},{"s":"4","f":1.5,"v":2.0},{"s":"4","f":2.0,"v":3.2},{"s":"4","f":2.12,"v":3.5},{"s":"4","f":2.5,"v":4.3},{"s":"4","f":3.0,"v":5.3},
  {"s":"2","f":0.01,"v":-1.5},{"s":"2","f":0.1,"v":-2.2},{"s":"2","f":0.3,"v":-2.0},{"s":"2","f":0.6,"v":-1.4},{"s":"2","f":1.0,"v":-0.9},{"s":"2","f":1.5,"v":-0.7},{"s":"2","f":2.0,"v":-0.8},{"s":"2","f":2.5,"v":-1.1},{"s":"2","f":3.0,"v":-1.5},
  {"s":"1","f":0.01,"v":-5},{"s":"1","f":0.05,"v":-5.5},{"s":"1","f":0.13,"v":-4.9},{"s":"1","f":0.25,"v":-3.3},{"s":"1","f":0.37,"v":-2.2},{"s":"1","f":0.5,"v":-1.5},{"s":"1","f":0.7,"v":-0.7},{"s":"1","f":1.0,"v":0.0},{"s":"1","f":1.5,"v":0.6},{"s":"1","f":2.0,"v":0.8},{"s":"1","f":2.5,"v":0.6},{"s":"1","f":3.0,"v":0.2},
  {"s":"0.5","f":0.01,"v":-4},{"s":"0.5","f":0.025,"v":-9},{"s":"0.5","f":0.04,"v":-10.1},{"s":"0.5","f":0.07,"v":-10.2},{"s":"0.5","f":0.1,"v":-9.0},{"s":"0.5","f":0.13,"v":-7.5},{"s":"0.5","f":0.2,"v":-5.3},{"s":"0.5","f":0.3,"v":-3.8},{"s":"0.5","f":0.45,"v":-2.5},{"s":"0.5","f":0.6,"v":-1.6},{"s":"0.5","f":0.8,"v":-0.9},{"s":"0.5","f":1.0,"v":-0.4},{"s":"0.5","f":1.5,"v":0.2},{"s":"0.5","f":2.0,"v":0.4},{"s":"0.5","f":2.5,"v":0.1},{"s":"0.5","f":3.0,"v":-0.4}
 ],
 "la25": [
  {"t":"15.5 dB","x":0.45,"y":0.65,"x1":0.43,"y1":0.655,"x2":0.115,"y2":0.68},
  {"t":"8 dB","x":0.66,"y":0.455,"x1":0.64,"y1":0.455,"x2":0.41,"y2":0.455},
  {"t":"4 dB","x":0.82,"y":0.3,"x1":0.8,"y1":0.285,"x2":0.52,"y2":0.12},
  {"t":"2 dB","x":1.1,"y":0.205,"x1":1.08,"y1":0.19,"x2":0.79,"y2":-0.05},
  {"t":"1 dB","x":0.56,"y":-0.18,"x1":0.54,"y1":-0.175,"x2":0.21,"y2":-0.04},
  {"t":"0.5 dB","x":0.37,"y":-0.35,"x1":0.35,"y1":-0.335,"x2":0.15,"y2":-0.18}
 ],
 "la85": [
  {"t":"15.5 dB","x":0.49,"y":0.62,"x1":0.47,"y1":0.63,"x2":0.14,"y2":0.66},
  {"t":"8 dB","x":0.7,"y":0.43,"x1":0.68,"y1":0.43,"x2":0.45,"y2":0.45},
  {"t":"4 dB","x":0.9,"y":0.245,"x1":0.88,"y1":0.23,"x2":0.53,"y2":0.04},
  {"t":"2 dB","x":1.28,"y":0.16,"x1":1.26,"y1":0.15,"x2":0.99,"y2":0.0},
  {"t":"1 dB","x":0.64,"y":-0.27,"x1":0.62,"y1":-0.26,"x2":0.26,"y2":-0.11},
  {"t":"0.5 dB","x":0.46,"y":-0.37,"x1":0.44,"y1":-0.355,"x2":0.23,"y2":-0.19}
 ],
 "la40": [
  {"t":"15.5 dB","x":0.45,"y":0.62,"x1":0.43,"y1":0.63,"x2":0.1,"y2":0.7},
  {"t":"8 dB","x":0.72,"y":0.44,"x1":0.7,"y1":0.445,"x2":0.46,"y2":0.45},
  {"t":"4 dB","x":0.98,"y":0.25,"x1":0.96,"y1":0.23,"x2":0.64,"y2":-0.05},
  {"t":"0.5 dB","x":0.47,"y":-0.24,"x1":0.45,"y1":-0.23,"x2":0.27,"y2":-0.12},
  {"t":"2 dB","x":0.42,"y":-0.41,"x1":0.4,"y1":-0.4,"x2":0.21,"y2":-0.3},
  {"t":"1 dB","x":0.34,"y":-0.56,"x1":0.32,"y1":-0.55,"x2":0.12,"y2":-0.5}
 ],
 "lp25": [
  {"t":"15.5 dB","x":0.52,"y":18.6,"x1":0.5,"y1":17.9,"x2":0.06,"y2":7.4},
  {"t":"8 dB","x":0.89,"y":13.3,"x1":0.87,"y1":13.2,"x2":0.61,"y2":12.8},
  {"t":"4 dB","x":1.32,"y":5.0,"x1":1.3,"y1":4.6,"x2":1.1,"y2":1.5},
  {"t":"1 dB","x":0.55,"y":-4.2,"x1":0.53,"y1":-3.8,"x2":0.38,"y2":-2.2},
  {"t":"2 dB","x":1.4,"y":-4.5,"x1":1.38,"y1":-4.0,"x2":1.16,"y2":-1.0},
  {"t":"0.5 dB","x":0.3,"y":-7.5,"x1":0.28,"y1":-7.0,"x2":0.06,"y2":-2.4}
 ],
 "lp85": [
  {"t":"15.5 dB","x":0.45,"y":20.5,"x1":0.43,"y1":19.8,"x2":0.07,"y2":7.2},
  {"t":"8 dB","x":0.58,"y":15.3,"x1":0.56,"y1":15.3,"x2":0.47,"y2":15.1},
  {"t":"1 dB","x":0.68,"y":3.0,"x1":0.66,"y1":2.6,"x2":0.37,"y2":-0.8},
  {"t":"2 dB","x":0.91,"y":-5.8,"x1":0.89,"y1":-5.3,"x2":0.59,"y2":-1.8},
  {"t":"4 dB","x":0.53,"y":-9.1,"x1":0.51,"y1":-8.6,"x2":0.2,"y2":-6.2},
  {"t":"0.5 dB","x":2.3,"y":-4.5,"x1":2.28,"y1":-4.0,"x2":2.06,"y2":0.2}
 ],
 "lp40": [
  {"t":"8 dB","x":0.4,"y":23.8,"x1":0.38,"y1":23.8,"x2":0.24,"y2":24.0},
  {"t":"15.5 dB","x":0.7,"y":15.5,"x1":0.68,"y1":14.8,"x2":0.24,"y2":5.6},
  {"t":"4 dB","x":2.36,"y":6.3,"x1":2.34,"y1":5.9,"x2":2.12,"y2":3.5},
  {"t":"1 dB","x":0.61,"y":-5.8,"x1":0.59,"y1":-5.3,"x2":0.37,"y2":-2.2},
  {"t":"2 dB","x":1.27,"y":-5.8,"x1":1.25,"y1":-5.3,"x2":1.0,"y2":-0.9},
  {"t":"0.5 dB","x":0.36,"y":-10.4,"x1":0.34,"y1":-9.8,"x2":0.13,"y2":-4.9}
 ]
},
"columns": 2,
"spacing": {"row": 88, "column": 111},
"bounds": "flush",
"concat": [
 {
  "width": 164, "height": 127,
  "title": {"text": ["Attenuation Accuracy", "vs. Frequency (25°C)"]},
  "resolve": {"scale": {"x": "independent", "y": "independent"}},
  "layer": [
   {"layer": [
    {"data": {"name": "a25"}, "mark": {"type": "line", "color": "#111", "strokeWidth": 1.1, "clip": true},
     "encoding": {"x": {"field": "f", "type": "quantitative", "scale": {"domain": [0, 3], "nice": false}, "axis": {"values": [0, 0.5, 1, 1.5, 2, 2.5, 3], "labelExpr": "datum.value == 0 ? '0' : format(datum.value, '.1f')", "title": "Frequency (GHz)"}},
      "y": {"field": "v", "type": "quantitative", "scale": {"domain": [-0.75, 0.75], "nice": false}, "axis": {"values": [-0.75, -0.5, -0.25, 0, 0.25, 0.5, 0.75], "labelExpr": "datum.value == 0 ? '0' : (datum.value < 0 ? '-' : '') + format(abs(datum.value), '.2f')", "title": ["Deviation from Nominal", "Attenuation (dB)"], "titlePadding": 5}},
      "detail": {"field": "s", "type": "nominal"}}},
    {"data": {"name": "la25"}, "mark": {"type": "rule", "color": "#111", "strokeWidth": 0.6},
     "encoding": {"x": {"field": "x1", "type": "quantitative", "scale": {"domain": [0, 3], "nice": false}}, "y": {"field": "y1", "type": "quantitative", "scale": {"domain": [-0.75, 0.75], "nice": false}}, "x2": {"field": "x2"}, "y2": {"field": "y2"}}},
    {"data": {"name": "la25"}, "mark": {"type": "text", "align": "left", "baseline": "middle", "fontSize": 7.5, "color": "white", "stroke": "white", "strokeWidth": 3, "strokeJoin": "round"},
     "encoding": {"x": {"field": "x", "type": "quantitative", "scale": {"domain": [0, 3], "nice": false}}, "y": {"field": "y", "type": "quantitative", "scale": {"domain": [-0.75, 0.75], "nice": false}}, "text": {"field": "t", "type": "nominal"}}},
    {"data": {"name": "la25"}, "mark": {"type": "text", "align": "left", "baseline": "middle", "fontSize": 7.5, "color": "#111"},
     "encoding": {"x": {"field": "x", "type": "quantitative", "scale": {"domain": [0, 3], "nice": false}}, "y": {"field": "y", "type": "quantitative", "scale": {"domain": [-0.75, 0.75], "nice": false}}, "text": {"field": "t", "type": "nominal"}}}
   ]},
   {"layer": [
    {"data": {"name": "hdr"}, "transform": [{"filter": "datum.k == 'l'"}], "mark": {"type": "text", "align": "left", "baseline": "alphabetic", "fontSize": 10, "fontWeight": "bold", "color": "#000"},
     "encoding": {"x": {"field": "x", "type": "quantitative", "scale": {"domain": [106.7, 270.7], "nice": false, "zero": false}, "axis": null}, "y": {"field": "y", "type": "quantitative", "scale": {"domain": [83.3, 210.3], "nice": false, "zero": false, "reverse": true}, "axis": null}, "text": {"field": "t", "type": "nominal"}}},
    {"data": {"name": "hdr"}, "transform": [{"filter": "datum.k == 'r'"}], "mark": {"type": "text", "align": "right", "baseline": "alphabetic", "fontSize": 10, "fontWeight": "bold", "color": "#000"},
     "encoding": {"x": {"field": "x", "type": "quantitative", "scale": {"domain": [106.7, 270.7], "nice": false, "zero": false}, "axis": null}, "y": {"field": "y", "type": "quantitative", "scale": {"domain": [83.3, 210.3], "nice": false, "zero": false, "reverse": true}, "axis": null}, "text": {"field": "t", "type": "nominal"}}},
    {"data": {"name": "hrule"}, "mark": {"type": "rule", "color": "#000", "strokeWidth": 1.3},
     "encoding": {"x": {"field": "x", "type": "quantitative", "scale": {"domain": [106.7, 270.7], "nice": false, "zero": false}, "axis": null}, "x2": {"field": "x2"}, "y": {"field": "y", "type": "quantitative", "scale": {"domain": [83.3, 210.3], "nice": false, "zero": false, "reverse": true}, "axis": null}}}
   ]}
  ]
 },
 {
  "width": 164, "height": 127,
  "title": {"text": ["Attenuation Phase Accuracy", "vs. Frequency (25°C)"]},
  "layer": [
   {"data": {"name": "p25"}, "mark": {"type": "line", "color": "#111", "strokeWidth": 1.1, "clip": true},
    "encoding": {"x": {"field": "f", "type": "quantitative", "scale": {"domain": [0, 3], "nice": false}, "axis": {"values": [0, 0.5, 1, 1.5, 2, 2.5, 3], "labelExpr": "datum.value == 0 ? '0' : format(datum.value, '.1f')", "title": "Frequency (GHz)"}},
     "y": {"field": "v", "type": "quantitative", "scale": {"domain": [-20, 30], "nice": false}, "axis": {"values": [-20, -10, 0, 10, 20, 30], "labelExpr": "(datum.value < 0 ? '-' : '') + format(abs(datum.value), 'd')", "title": ["Deviation from Nominal", "Insertion Phase (Deg.)"], "titlePadding": 11}},
     "detail": {"field": "s", "type": "nominal"}}},
   {"data": {"name": "lp25"}, "mark": {"type": "rule", "color": "#111", "strokeWidth": 0.6},
    "encoding": {"x": {"field": "x1", "type": "quantitative", "scale": {"domain": [0, 3], "nice": false}}, "y": {"field": "y1", "type": "quantitative", "scale": {"domain": [-20, 30], "nice": false}}, "x2": {"field": "x2"}, "y2": {"field": "y2"}}},
   {"data": {"name": "lp25"}, "mark": {"type": "text", "align": "left", "baseline": "middle", "fontSize": 7.5, "color": "white", "stroke": "white", "strokeWidth": 3, "strokeJoin": "round"},
    "encoding": {"x": {"field": "x", "type": "quantitative", "scale": {"domain": [0, 3], "nice": false}}, "y": {"field": "y", "type": "quantitative", "scale": {"domain": [-20, 30], "nice": false}}, "text": {"field": "t", "type": "nominal"}}},
   {"data": {"name": "lp25"}, "mark": {"type": "text", "align": "left", "baseline": "middle", "fontSize": 7.5, "color": "#111"},
    "encoding": {"x": {"field": "x", "type": "quantitative", "scale": {"domain": [0, 3], "nice": false}}, "y": {"field": "y", "type": "quantitative", "scale": {"domain": [-20, 30], "nice": false}}, "text": {"field": "t", "type": "nominal"}}}
  ]
 },
 {
  "width": 164, "height": 127,
  "title": {"text": ["Attenuation Accuracy", "vs. Frequency (85°C)"]},
  "layer": [
   {"data": {"name": "a85"}, "mark": {"type": "line", "color": "#111", "strokeWidth": 1.1, "clip": true},
    "encoding": {"x": {"field": "f", "type": "quantitative", "scale": {"domain": [0, 3], "nice": false}, "axis": {"values": [0, 0.5, 1, 1.5, 2, 2.5, 3], "labelExpr": "datum.value == 0 ? '0' : format(datum.value, '.1f')", "title": "Frequency (GHz)"}},
     "y": {"field": "v", "type": "quantitative", "scale": {"domain": [-0.75, 0.75], "nice": false}, "axis": {"values": [-0.75, -0.5, -0.25, 0, 0.25, 0.5, 0.75], "labelExpr": "datum.value == 0 ? '0' : (datum.value < 0 ? '-' : '') + format(abs(datum.value), '.2f')", "title": ["Deviation from Nominal", "Attenuation (dB)"], "titlePadding": 5}},
     "detail": {"field": "s", "type": "nominal"}}},
   {"data": {"name": "la85"}, "mark": {"type": "rule", "color": "#111", "strokeWidth": 0.6},
    "encoding": {"x": {"field": "x1", "type": "quantitative", "scale": {"domain": [0, 3], "nice": false}}, "y": {"field": "y1", "type": "quantitative", "scale": {"domain": [-0.75, 0.75], "nice": false}}, "x2": {"field": "x2"}, "y2": {"field": "y2"}}},
   {"data": {"name": "la85"}, "mark": {"type": "text", "align": "left", "baseline": "middle", "fontSize": 7.5, "color": "white", "stroke": "white", "strokeWidth": 3, "strokeJoin": "round"},
    "encoding": {"x": {"field": "x", "type": "quantitative", "scale": {"domain": [0, 3], "nice": false}}, "y": {"field": "y", "type": "quantitative", "scale": {"domain": [-0.75, 0.75], "nice": false}}, "text": {"field": "t", "type": "nominal"}}},
   {"data": {"name": "la85"}, "mark": {"type": "text", "align": "left", "baseline": "middle", "fontSize": 7.5, "color": "#111"},
    "encoding": {"x": {"field": "x", "type": "quantitative", "scale": {"domain": [0, 3], "nice": false}}, "y": {"field": "y", "type": "quantitative", "scale": {"domain": [-0.75, 0.75], "nice": false}}, "text": {"field": "t", "type": "nominal"}}}
  ]
 },
 {
  "width": 164, "height": 127,
  "title": {"text": ["Attenuation Phase Accuracy", "vs. Frequency (85°C)"]},
  "layer": [
   {"data": {"name": "p85"}, "mark": {"type": "line", "color": "#111", "strokeWidth": 1.1, "clip": true},
    "encoding": {"x": {"field": "f", "type": "quantitative", "scale": {"domain": [0, 3], "nice": false}, "axis": {"values": [0, 0.5, 1, 1.5, 2, 2.5, 3], "labelExpr": "datum.value == 0 ? '0' : format(datum.value, '.1f')", "title": "Frequency (GHz)"}},
     "y": {"field": "v", "type": "quantitative", "scale": {"domain": [-20, 30], "nice": false}, "axis": {"values": [-20, -10, 0, 10, 20, 30], "labelExpr": "(datum.value < 0 ? '-' : '') + format(abs(datum.value), 'd')", "title": ["Deviation from Nominal", "Insertion Phase (Deg.)"], "titlePadding": 11}},
     "detail": {"field": "s", "type": "nominal"}}},
   {"data": {"name": "lp85"}, "mark": {"type": "rule", "color": "#111", "strokeWidth": 0.6},
    "encoding": {"x": {"field": "x1", "type": "quantitative", "scale": {"domain": [0, 3], "nice": false}}, "y": {"field": "y1", "type": "quantitative", "scale": {"domain": [-20, 30], "nice": false}}, "x2": {"field": "x2"}, "y2": {"field": "y2"}}},
   {"data": {"name": "lp85"}, "mark": {"type": "text", "align": "left", "baseline": "middle", "fontSize": 7.5, "color": "white", "stroke": "white", "strokeWidth": 3, "strokeJoin": "round"},
    "encoding": {"x": {"field": "x", "type": "quantitative", "scale": {"domain": [0, 3], "nice": false}}, "y": {"field": "y", "type": "quantitative", "scale": {"domain": [-20, 30], "nice": false}}, "text": {"field": "t", "type": "nominal"}}},
   {"data": {"name": "lp85"}, "mark": {"type": "text", "align": "left", "baseline": "middle", "fontSize": 7.5, "color": "#111"},
    "encoding": {"x": {"field": "x", "type": "quantitative", "scale": {"domain": [0, 3], "nice": false}}, "y": {"field": "y", "type": "quantitative", "scale": {"domain": [-20, 30], "nice": false}}, "text": {"field": "t", "type": "nominal"}}}
  ]
 },
 {
  "width": 164, "height": 127,
  "title": {"text": ["Attenuation Accuracy", "vs. Frequency (-40°C)"]},
  "layer": [
   {"data": {"name": "a40"}, "mark": {"type": "line", "color": "#111", "strokeWidth": 1.1, "clip": true},
    "encoding": {"x": {"field": "f", "type": "quantitative", "scale": {"domain": [0, 3], "nice": false}, "axis": {"values": [0, 0.5, 1, 1.5, 2, 2.5, 3], "labelExpr": "datum.value == 0 ? '0' : format(datum.value, '.1f')", "title": "Frequency (GHz)"}},
     "y": {"field": "v", "type": "quantitative", "scale": {"domain": [-0.75, 0.75], "nice": false}, "axis": {"values": [-0.75, -0.5, -0.25, 0, 0.25, 0.5, 0.75], "labelExpr": "datum.value == 0 ? '0' : (datum.value < 0 ? '-' : '') + format(abs(datum.value), '.2f')", "title": ["Deviation from Nominal", "Attenuation (dB)"], "titlePadding": 5}},
     "detail": {"field": "s", "type": "nominal"}}},
   {"data": {"name": "la40"}, "mark": {"type": "rule", "color": "#111", "strokeWidth": 0.6},
    "encoding": {"x": {"field": "x1", "type": "quantitative", "scale": {"domain": [0, 3], "nice": false}}, "y": {"field": "y1", "type": "quantitative", "scale": {"domain": [-0.75, 0.75], "nice": false}}, "x2": {"field": "x2"}, "y2": {"field": "y2"}}},
   {"data": {"name": "la40"}, "mark": {"type": "text", "align": "left", "baseline": "middle", "fontSize": 7.5, "color": "white", "stroke": "white", "strokeWidth": 3, "strokeJoin": "round"},
    "encoding": {"x": {"field": "x", "type": "quantitative", "scale": {"domain": [0, 3], "nice": false}}, "y": {"field": "y", "type": "quantitative", "scale": {"domain": [-0.75, 0.75], "nice": false}}, "text": {"field": "t", "type": "nominal"}}},
   {"data": {"name": "la40"}, "mark": {"type": "text", "align": "left", "baseline": "middle", "fontSize": 7.5, "color": "#111"},
    "encoding": {"x": {"field": "x", "type": "quantitative", "scale": {"domain": [0, 3], "nice": false}}, "y": {"field": "y", "type": "quantitative", "scale": {"domain": [-0.75, 0.75], "nice": false}}, "text": {"field": "t", "type": "nominal"}}}
  ]
 },
 {
  "width": 164, "height": 127,
  "title": {"text": ["Attenuation Phase Accuracy", "vs. Frequency (-40°C)"]},
  "layer": [
   {"data": {"name": "p40"}, "mark": {"type": "line", "color": "#111", "strokeWidth": 1.1, "clip": true},
    "encoding": {"x": {"field": "f", "type": "quantitative", "scale": {"domain": [0, 3], "nice": false}, "axis": {"values": [0, 0.5, 1, 1.5, 2, 2.5, 3], "labelExpr": "datum.value == 0 ? '0' : format(datum.value, '.1f')", "title": "Frequency (GHz)"}},
     "y": {"field": "v", "type": "quantitative", "scale": {"domain": [-20, 30], "nice": false}, "axis": {"values": [-20, -10, 0, 10, 20, 30], "labelExpr": "(datum.value < 0 ? '-' : '') + format(abs(datum.value), 'd')", "title": ["Deviation from Nominal", "Insertion Phase (Deg.)"], "titlePadding": 11}},
     "detail": {"field": "s", "type": "nominal"}}},
   {"data": {"name": "lp40"}, "mark": {"type": "rule", "color": "#111", "strokeWidth": 0.6},
    "encoding": {"x": {"field": "x1", "type": "quantitative", "scale": {"domain": [0, 3], "nice": false}}, "y": {"field": "y1", "type": "quantitative", "scale": {"domain": [-20, 30], "nice": false}}, "x2": {"field": "x2"}, "y2": {"field": "y2"}}},
   {"data": {"name": "lp40"}, "mark": {"type": "text", "align": "left", "baseline": "middle", "fontSize": 7.5, "color": "white", "stroke": "white", "strokeWidth": 3, "strokeJoin": "round"},
    "encoding": {"x": {"field": "x", "type": "quantitative", "scale": {"domain": [0, 3], "nice": false}}, "y": {"field": "y", "type": "quantitative", "scale": {"domain": [-20, 30], "nice": false}}, "text": {"field": "t", "type": "nominal"}}},
   {"data": {"name": "lp40"}, "mark": {"type": "text", "align": "left", "baseline": "middle", "fontSize": 7.5, "color": "#111"},
    "encoding": {"x": {"field": "x", "type": "quantitative", "scale": {"domain": [0, 3], "nice": false}}, "y": {"field": "y", "type": "quantitative", "scale": {"domain": [-20, 30], "nice": false}}, "text": {"field": "t", "type": "nominal"}}}
  ]
 },
 {
  "width": 164, "height": 20,
  "view": {"stroke": null},
  "layer": [
   {"data": {"name": "frule"}, "mark": {"type": "rule", "color": "#000", "strokeWidth": 0.8},
    "encoding": {"x": {"field": "x", "type": "quantitative", "scale": {"domain": [106.7, 270.7], "nice": false, "zero": false}, "axis": null}, "x2": {"field": "x2"}, "y": {"field": "y", "type": "quantitative", "scale": {"domain": [728.3, 748.3], "nice": false, "zero": false, "reverse": true}, "axis": null}}},
   {"data": {"name": "ftr"}, "transform": [{"filter": "datum.k == 'co'"}], "mark": {"type": "text", "align": "left", "baseline": "alphabetic", "fontSize": 7.5, "color": "#222"},
    "encoding": {"x": {"field": "x", "type": "quantitative", "scale": {"domain": [106.7, 270.7], "nice": false, "zero": false}, "axis": null}, "y": {"field": "y", "type": "quantitative", "scale": {"domain": [728.3, 748.3], "nice": false, "zero": false, "reverse": true}, "axis": null}, "text": {"field": "t", "type": "nominal"}}},
   {"data": {"name": "ftr"}, "transform": [{"filter": "datum.k == 'num'"}], "mark": {"type": "text", "align": "left", "baseline": "alphabetic", "fontSize": 8.5, "fontWeight": "bold", "color": "#000"},
    "encoding": {"x": {"field": "x", "type": "quantitative", "scale": {"domain": [106.7, 270.7], "nice": false, "zero": false}, "axis": null}, "y": {"field": "y", "type": "quantitative", "scale": {"domain": [728.3, 748.3], "nice": false, "zero": false, "reverse": true}, "axis": null}, "text": {"field": "t", "type": "nominal"}}},
   {"data": {"name": "ftr"}, "transform": [{"filter": "datum.k == 'web'"}], "mark": {"type": "text", "align": "left", "baseline": "alphabetic", "fontSize": 6.7, "fontWeight": "bold", "color": "#000"},
    "encoding": {"x": {"field": "x", "type": "quantitative", "scale": {"domain": [106.7, 270.7], "nice": false, "zero": false}, "axis": null}, "y": {"field": "y", "type": "quantitative", "scale": {"domain": [728.3, 748.3], "nice": false, "zero": false, "reverse": true}, "axis": null}, "text": {"field": "t", "type": "nominal"}}},
   {"data": {"name": "ftr"}, "transform": [{"filter": "datum.k == 'pg'"}], "mark": {"type": "text", "align": "right", "baseline": "alphabetic", "fontSize": 11, "fontWeight": "bold", "color": "#000"},
    "encoding": {"x": {"field": "x", "type": "quantitative", "scale": {"domain": [106.7, 270.7], "nice": false, "zero": false}, "axis": null}, "y": {"field": "y", "type": "quantitative", "scale": {"domain": [728.3, 748.3], "nice": false, "zero": false, "reverse": true}, "axis": null}, "text": {"field": "t", "type": "nominal"}}},
   {"data": {"name": "ftr"}, "transform": [{"filter": "datum.k == 'note'"}], "mark": {"type": "text", "align": "center", "baseline": "alphabetic", "fontSize": 5, "fontStyle": "italic", "color": "#222"},
    "encoding": {"x": {"field": "x", "type": "quantitative", "scale": {"domain": [106.7, 270.7], "nice": false, "zero": false}, "axis": null}, "y": {"field": "y", "type": "quantitative", "scale": {"domain": [728.3, 748.3], "nice": false, "zero": false, "reverse": true}, "axis": null}, "text": {"field": "t", "type": "nominal"}}}
  ]
 }
]
}
